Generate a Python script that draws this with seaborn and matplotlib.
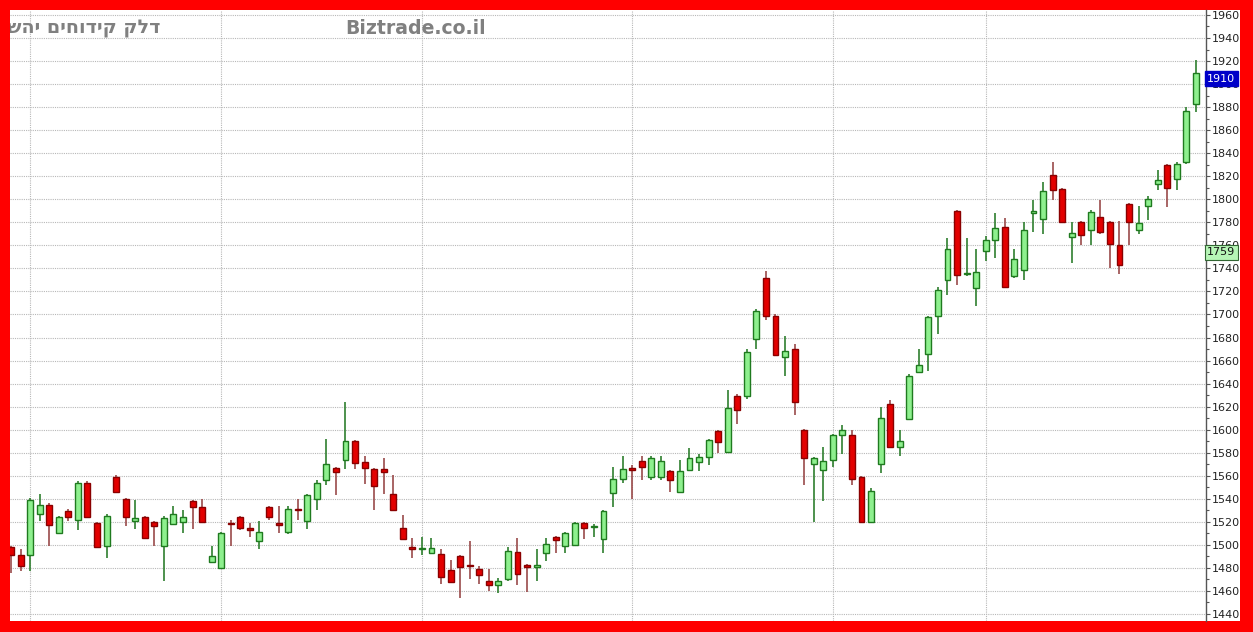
import numpy as np
import pandas as pd
import seaborn as sns
import matplotlib
matplotlib.use("Agg")
import matplotlib.pyplot as plt
import matplotlib.transforms as mtransforms
from matplotlib.patches import Rectangle

# ---- data ----
opens = [1498, 1491, 1491, 1527, 1535, 1510, 1529, 1522, 1554, 1519,
         1499, 1559, 1540, 1521, 1524, 1520, 1499, 1518, 1520, 1538,
         1533, 1485, 1480, 1519, 1524, 1515, 1503, 1533, 1519, 1511,
         1531, 1521, 1540, 1556, 1567, 1574, 1590, 1572, 1566, 1566,
         1544, 1515, 1498, 1496, 1493, 1492, 1478, 1490, 1482.5, 1479,
         1469, 1465, 1470, 1494, 1482, 1481, 1493, 1507, 1499, 1500,
         1519, 1515.5, 1505, 1545, 1557, 1567, 1573, 1559, 1559, 1564,
         1546, 1565, 1572, 1576, 1599, 1581, 1629, 1629, 1679, 1732,
         1699, 1663, 1670, 1600, 1570, 1565, 1574, 1595, 1595, 1559,
         1520, 1570, 1622, 1585, 1609, 1650, 1666, 1699, 1730, 1790,
         1735, 1723, 1755, 1765, 1776, 1733, 1739, 1788, 1783, 1821,
         1809, 1767, 1780, 1773, 1785, 1780, 1760, 1796, 1773, 1794,
         1813, 1830, 1818, 1832, 1883]
highs = [1499, 1496, 1541, 1544, 1536, 1525, 1531, 1555, 1555, 1520,
         1527, 1561, 1541, 1539, 1525, 1521, 1525, 1534, 1530, 1539,
         1540, 1499, 1511, 1522, 1525, 1519, 1521, 1534, 1534, 1534,
         1540, 1544, 1556, 1592, 1568, 1624, 1591, 1577, 1567, 1575,
         1561, 1526, 1506, 1507, 1506, 1496, 1487, 1491, 1503, 1482,
         1479, 1471, 1498, 1506, 1483, 1496, 1506, 1508, 1511, 1520,
         1520, 1518, 1530, 1568, 1577, 1569, 1577, 1577, 1577, 1565,
         1574, 1584, 1579, 1592, 1600, 1634, 1631, 1670, 1705, 1738,
         1700, 1681, 1674, 1601, 1576, 1585, 1596, 1604, 1600, 1560,
         1549, 1620, 1626, 1600, 1648, 1670, 1699, 1724, 1766, 1791,
         1766, 1757, 1768, 1788, 1784, 1757, 1780, 1799, 1815, 1832,
         1810, 1780, 1781, 1791, 1799, 1781, 1781, 1797, 1794, 1803,
         1825, 1831, 1832, 1880, 1921]
lows = [1476, 1477, 1477, 1521, 1499, 1509, 1521, 1513, 1523, 1497,
        1489, 1545, 1516, 1514, 1505, 1499, 1469, 1517, 1510, 1514,
        1519, 1484, 1479, 1499, 1513, 1507, 1496, 1522, 1510, 1509,
        1522, 1514, 1530, 1552, 1543, 1566, 1566, 1553, 1530, 1544,
        1530, 1504, 1489, 1491, 1492, 1466, 1467, 1454, 1470, 1466,
        1460, 1458, 1469, 1465, 1459, 1469, 1486, 1493, 1493, 1499,
        1505, 1507, 1493, 1533, 1554, 1540, 1556, 1556, 1556, 1546,
        1545, 1564, 1564, 1569, 1580, 1580, 1605, 1627, 1670, 1695,
        1664, 1647, 1613, 1552, 1520, 1538, 1568, 1579, 1552, 1519,
        1519, 1562, 1584, 1577, 1608, 1649, 1651, 1683, 1717, 1726,
        1733, 1707, 1746, 1749, 1723, 1732, 1730, 1772, 1770, 1799,
        1780, 1745, 1760, 1760, 1770, 1740, 1735, 1760, 1770, 1782,
        1808, 1793, 1808, 1831, 1876]
closes = [1491, 1482, 1539, 1535, 1517, 1524, 1524, 1554, 1524, 1498,
          1525, 1546, 1524, 1523, 1506, 1516, 1523, 1527, 1524, 1533,
          1520, 1490, 1510, 1518, 1515, 1513, 1511, 1524, 1517, 1531,
          1530, 1543, 1554, 1570, 1563, 1590, 1571, 1567, 1551, 1563,
          1530, 1505, 1496, 1497, 1497, 1472, 1468, 1481, 1481.5, 1474,
          1465, 1469, 1495, 1475, 1481, 1482, 1501, 1504, 1510, 1519,
          1515, 1516.5, 1529, 1557, 1566, 1565, 1568, 1575, 1573, 1556,
          1564, 1575, 1576, 1591, 1589, 1619, 1617, 1667, 1703, 1699,
          1665, 1668, 1624, 1575, 1575, 1573, 1595, 1600, 1557, 1520,
          1547, 1610, 1585, 1590, 1647, 1656, 1698, 1721, 1757, 1734,
          1736, 1737, 1765, 1775, 1724, 1748, 1773, 1790, 1807, 1808,
          1780, 1771, 1769, 1789, 1772, 1761, 1743, 1780, 1779, 1800,
          1817, 1810, 1831, 1877, 1910]
month_starts = [2, 22, 43, 65, 86, 102]
y_ticks = list(range(1440, 1961, 20))
title_he = "דלק קידוחים יהש"
site_name = "Biztrade.co.il"
last_price = 1910
ref_price = 1759

df = pd.DataFrame({"open": opens, "high": highs, "low": lows, "close": closes})
df["idx"] = np.arange(len(df))
df["up"] = df["close"] >= df["open"]

sns.set_style("white")
plt.rcParams["font.family"] = ["DejaVu Sans"]

W, H = 1253, 632
fig = plt.figure(figsize=(W / 100, H / 100), dpi=100)
fig.patch.set_facecolor("#ff0000")
# white inner panel (behind the axes)
panel = Rectangle((10 / W, (H - 621) / H), (1240 - 10) / W, (621 - 10) / H,
                  transform=fig.transFigure, facecolor="white",
                  edgecolor="none", zorder=-10)
fig.patches.append(panel)

ax = fig.add_axes([10 / W, (H - 621) / H, (1205.5 - 10) / W, (621 - 10) / H])
ax.set_zorder(5)
ax.set_facecolor("white")

up_face, up_edge = "#8ef08e", "#1f7a1f"
dn_face, dn_edge = "#e30000", "#8a0000"
up_wick, dn_wick = "#2f7f2f", "#9a4a4a"

# wicks
for up, wc in ((True, up_wick), (False, dn_wick)):
    d = df[df["up"] == up]
    ax.vlines(d["idx"], d["low"], d["high"], color=wc, linewidth=1.2, zorder=2)

# bodies
bw = 0.62
for up, fc, ec in ((True, up_face, up_edge), (False, dn_face, dn_edge)):
    d = df[df["up"] == up]
    bottom = np.minimum(d["open"], d["close"])
    height = np.maximum(np.abs(d["close"] - d["open"]), 1.3)
    ax.bar(d["idx"], height, bottom=bottom, width=bw, color=fc, edgecolor=ec,
           linewidth=1.0, zorder=3)

ax.set_xlim(-0.105, 125.0)
ax.set_ylim(1433.9, 1964.3)

# grid
for yv in y_ticks:
    ax.axhline(yv, color="#b8b8b8", linestyle=(0, (1, 1)), linewidth=0.8, zorder=1)
for xv in month_starts:
    ax.axvline(xv, color="#b8b8b8", linestyle=(0, (1, 1)), linewidth=0.8, zorder=1)

ax.yaxis.tick_right()
ax.set_yticks(y_ticks)
ax.set_yticklabels([str(v) for v in y_ticks])
ax.set_yticks(list(range(1450, 1961, 20)), minor=True)
ax.tick_params(axis="y", which="major", direction="out", length=3, width=0.8,
               color="#555555", labelsize=8, labelcolor="#222222", pad=1.5)
ax.tick_params(axis="y", which="minor", direction="out", length=2, width=0.8,
               color="#555555")
ax.set_xticks([])
for s in ("left", "top", "bottom"):
    ax.spines[s].set_visible(False)
ax.spines["right"].set_color("#555555")
ax.spines["right"].set_linewidth(1.0)

# price labels: box hangs just below the price level
lbl_off = mtransforms.offset_copy(
    mtransforms.blended_transform_factory(ax.transAxes, ax.transData),
    fig=fig, x=1.5, y=-6, units="dots")
ax.text(1.0, last_price, str(last_price), transform=lbl_off, ha="left", va="center",
        fontsize=8, color="white", clip_on=False, zorder=10,
        bbox=dict(boxstyle="square,pad=0.22", facecolor="#0000c8", edgecolor="#0000c8"))
ax.text(1.0, ref_price, str(ref_price), transform=lbl_off, ha="left", va="center",
        fontsize=8, color="#111111", clip_on=False, zorder=10,
        bbox=dict(boxstyle="square,pad=0.22", facecolor="#b6f5b6", edgecolor="#336633",
                  linewidth=0.8))

# header texts (Hebrew reversed so it shows in right-to-left visual order)
ax.text(-3 / 1195.5, 1 - 18 / 611, title_he[::-1], transform=ax.transAxes, ha="left",
        va="center", fontsize=13.8, fontweight="bold", color="#808080", zorder=10,
        clip_on=True)
ax.text((345 - 10) / 1195.5, 1 - 18 / 611, site_name, transform=ax.transAxes,
        ha="left", va="center", fontsize=13.6, fontweight="bold", color="#808080",
        zorder=10)

fig.savefig("out.png", dpi=100, facecolor=fig.get_facecolor())
